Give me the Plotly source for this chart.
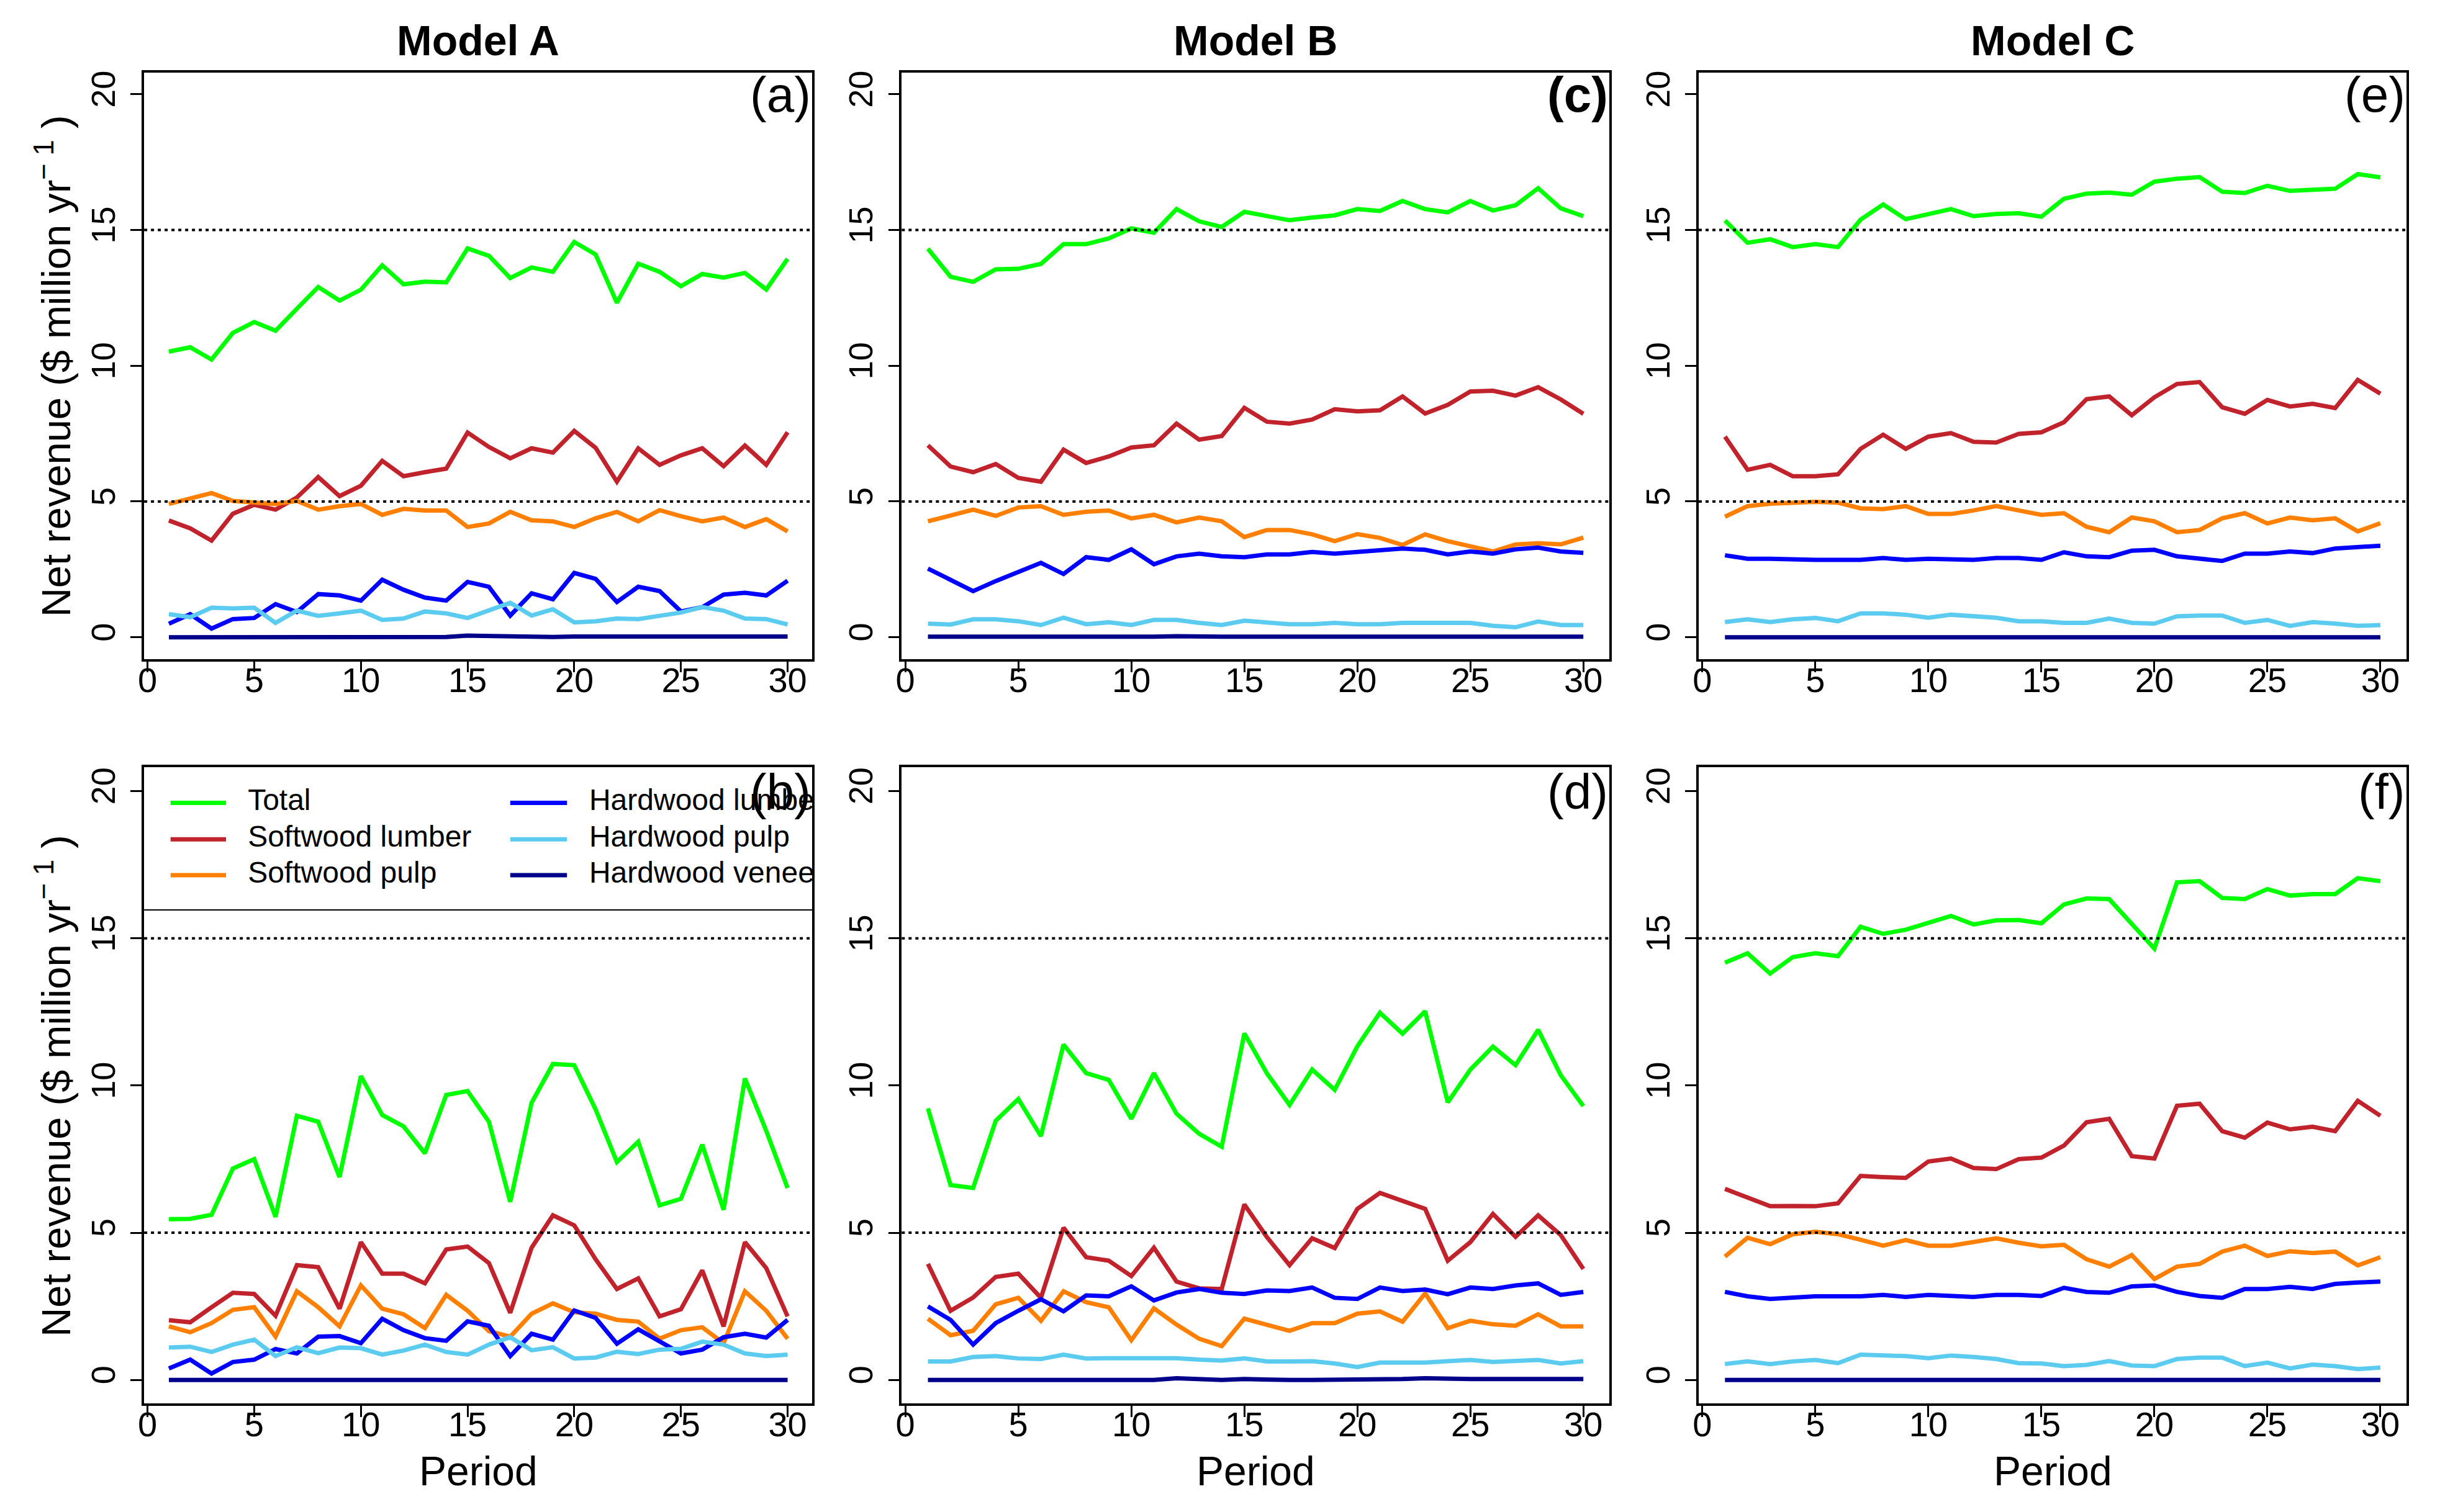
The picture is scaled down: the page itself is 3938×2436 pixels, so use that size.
import plotly.graph_objects as go

PERIODS = [1, 2, 3, 4, 5, 6, 7, 8, 9, 10, 11, 12, 13, 14, 15,
           16, 17, 18, 19, 20, 21, 22, 23, 24, 25, 26, 27, 28, 29, 30]
SERIES = ["Total", "Softwood lumber", "Softwood pulp",
          "Hardwood lumber", "Hardwood pulp", "Hardwood veneer"]
MODELS = ["Model A", "Model B", "Model C"]
X_TICKS = [0, 5, 10, 15, 20, 25, 30]
Y_TICKS = [0, 5, 10, 15, 20]
REF_LINES = [5, 15]

# ---- panel (a) ----
a_total = [10.52, 10.68, 10.23, 11.21, 11.61, 11.29, 12.1, 12.9, 12.4, 12.8, 13.7, 13.0, 13.1, 13.07, 14.32,
           14.05, 13.23, 13.62, 13.46, 14.56, 14.1, 12.32, 13.76, 13.46, 12.93, 13.38, 13.25, 13.42, 12.81, 13.94]
a_sw_lumber = [4.30, 4.01, 3.56, 4.55, 4.88, 4.70, 5.15, 5.90, 5.20, 5.58, 6.50, 5.93, 6.08, 6.21, 7.54,
               7.01, 6.59, 6.96, 6.80, 7.60, 6.98, 5.73, 6.96, 6.35, 6.70, 6.96, 6.30, 7.06, 6.35, 7.55]
a_sw_pulp = [4.91, 5.12, 5.31, 5.02, 4.96, 4.91, 5.02, 4.70, 4.83, 4.91, 4.51, 4.73, 4.67, 4.67, 4.06,
             4.19, 4.62, 4.31, 4.27, 4.06, 4.38, 4.62, 4.27, 4.68, 4.46, 4.27, 4.41, 4.06, 4.35, 3.90]
a_hw_lumber = [0.50, 0.85, 0.32, 0.67, 0.71, 1.22, 0.93, 1.59, 1.54, 1.35, 2.12, 1.75, 1.46, 1.35, 2.04,
               1.86, 0.80, 1.62, 1.40, 2.37, 2.15, 1.30, 1.86, 1.70, 0.95, 1.11, 1.57, 1.64, 1.54, 2.08]
a_hw_pulp = [0.85, 0.74, 1.09, 1.06, 1.09, 0.53, 0.98, 0.79, 0.88, 0.98, 0.64, 0.69, 0.95, 0.88, 0.71,
             0.99, 1.27, 0.80, 1.03, 0.55, 0.59, 0.69, 0.67, 0.79, 0.91, 1.11, 0.98, 0.69, 0.67, 0.47]
a_hw_veneer = [0.0, 0.0, 0.0, 0.0, 0.0, 0.0, 0.0, 0.0, 0.0, 0.02, 0.03, 0.02, 0.01, 0.01, 0.06,
               0.04, 0.01, 0.01, 0.01, 0.03, 0.03, 0.03, 0.03, 0.01, 0.01, 0.03, 0.01, 0.01, 0.01, 0.03]

# ---- panel (b) ----
b_total = [5.46, 5.47, 5.61, 7.18, 7.50, 5.54, 8.97, 8.77, 6.89, 10.32, 9.00, 8.61, 7.70, 9.68, 9.81,
           8.77, 6.05, 9.41, 10.73, 10.69, 9.19, 7.40, 8.09, 5.93, 6.15, 7.99, 5.78, 10.24, 8.46, 6.52]
b_sw_lumber = [2.03, 1.96, 2.47, 2.96, 2.92, 2.18, 3.90, 3.83, 2.42, 4.68, 3.61, 3.61, 3.28, 4.43, 4.53,
               3.97, 2.28, 4.49, 5.59, 5.25, 4.10, 3.09, 3.45, 2.16, 2.40, 3.72, 1.82, 4.68, 3.80, 2.16]
b_sw_pulp = [1.82, 1.62, 1.93, 2.38, 2.47, 1.47, 3.01, 2.47, 1.82, 3.21, 2.42, 2.23, 1.76, 2.89, 2.35,
             1.66, 1.47, 2.25, 2.60, 2.30, 2.25, 2.04, 1.98, 1.40, 1.69, 1.79, 1.25, 3.01, 2.35, 1.40]
b_hw_lumber = [0.39, 0.69, 0.22, 0.61, 0.69, 1.05, 0.90, 1.47, 1.49, 1.25, 2.08, 1.69, 1.42, 1.33, 1.99,
               1.84, 0.81, 1.57, 1.37, 2.36, 2.11, 1.23, 1.72, 1.33, 0.90, 1.03, 1.45, 1.57, 1.44, 2.04]
b_hw_pulp = [1.10, 1.13, 0.95, 1.20, 1.37, 0.81, 1.11, 0.91, 1.10, 1.08, 0.86, 1.00, 1.20, 0.95, 0.86,
             1.20, 1.45, 1.01, 1.11, 0.73, 0.76, 0.96, 0.88, 1.03, 1.06, 1.30, 1.20, 0.90, 0.81, 0.86]
b_hw_veneer = [0.0, 0.0, 0.0, 0.0, 0.0, 0.0, 0.0, 0.0, 0.0, 0.0, 0.0, 0.0, 0.0, 0.0, 0.03,
               0.01, 0.0, 0.0, 0.0, 0.0, 0.0, 0.01, 0.03, 0.0, 0.0, 0.0, 0.0, 0.0, 0.0, 0.0]

# ---- panel (c) ----
c_total = [14.31, 13.28, 13.09, 13.55, 13.57, 13.75, 14.48, 14.48, 14.69, 15.06, 14.90, 15.77, 15.32, 15.11, 15.67,
           15.51, 15.36, 15.46, 15.54, 15.77, 15.70, 16.07, 15.77, 15.65, 16.07, 15.72, 15.91, 16.54, 15.80, 15.51]
c_sw_lumber = [7.07, 6.29, 6.08, 6.38, 5.87, 5.73, 6.91, 6.42, 6.66, 6.99, 7.07, 7.87, 7.28, 7.41, 8.45,
               7.94, 7.87, 8.02, 8.40, 8.32, 8.36, 8.87, 8.24, 8.56, 9.05, 9.08, 8.90, 9.21, 8.76, 8.23]
c_sw_pulp = [4.27, 4.49, 4.70, 4.47, 4.78, 4.83, 4.51, 4.62, 4.67, 4.38, 4.51, 4.23, 4.41, 4.27, 3.69,
             3.95, 3.95, 3.79, 3.54, 3.80, 3.66, 3.40, 3.79, 3.54, 3.35, 3.16, 3.42, 3.46, 3.42, 3.67]
c_hw_lumber = [2.53, 2.12, 1.70, 2.07, 2.39, 2.74, 2.33, 2.95, 2.85, 3.24, 2.69, 2.98, 3.08, 2.98, 2.95,
               3.05, 3.05, 3.14, 3.08, 3.14, 3.18, 3.27, 3.22, 3.05, 3.16, 3.08, 3.24, 3.30, 3.16, 3.11]
c_hw_pulp = [0.50, 0.47, 0.66, 0.66, 0.59, 0.45, 0.72, 0.48, 0.55, 0.45, 0.64, 0.64, 0.53, 0.45, 0.61,
             0.56, 0.48, 0.48, 0.53, 0.48, 0.48, 0.53, 0.53, 0.50, 0.53, 0.42, 0.37, 0.58, 0.45, 0.45]
c_hw_veneer = [0.02, 0.02, -0.01, 0.01, 0.02, 0.02, 0.02, 0.02, 0.02, 0.02, 0.02, 0.04, 0.02, 0.02, 0.02,
               0.02, 0.02, 0.02, 0.02, 0.02, 0.02, 0.04, 0.05, 0.03, 0.02, 0.02, 0.02, 0.04, 0.04, 0.02]

# ---- panel (d) ----
d_total = [9.22, 6.62, 6.52, 8.80, 9.54, 8.28, 11.39, 10.42, 10.19, 8.87, 10.42, 9.04, 8.36, 7.92, 11.77,
           10.41, 9.34, 10.54, 9.85, 11.33, 12.47, 11.76, 12.52, 9.43, 10.54, 11.32, 10.69, 11.89, 10.35, 9.30]
d_sw_lumber = [3.94, 2.35, 2.80, 3.50, 3.61, 2.79, 5.17, 4.17, 4.05, 3.53, 4.49, 3.34, 3.11, 3.09, 5.96,
               4.85, 3.90, 4.81, 4.48, 5.81, 6.35, 6.08, 5.81, 4.05, 4.68, 5.64, 4.86, 5.59, 4.92, 3.77]
d_sw_pulp = [2.08, 1.52, 1.67, 2.57, 2.79, 2.01, 3.01, 2.64, 2.47, 1.35, 2.43, 1.88, 1.40, 1.15, 2.08,
             1.89, 1.67, 1.93, 1.93, 2.25, 2.33, 1.98, 2.94, 1.76, 2.01, 1.89, 1.84, 2.23, 1.82, 1.82]
d_hw_lumber = [2.50, 2.04, 1.20, 1.93, 2.35, 2.74, 2.33, 2.87, 2.84, 3.18, 2.70, 2.97, 3.09, 2.96, 2.92,
               3.04, 3.02, 3.14, 2.79, 2.75, 3.14, 3.02, 3.07, 2.91, 3.14, 3.09, 3.21, 3.28, 2.89, 2.99]
d_hw_pulp = [0.63, 0.63, 0.78, 0.81, 0.73, 0.71, 0.86, 0.73, 0.74, 0.73, 0.74, 0.74, 0.69, 0.66, 0.73,
             0.63, 0.63, 0.64, 0.56, 0.44, 0.59, 0.59, 0.59, 0.64, 0.68, 0.61, 0.63, 0.68, 0.56, 0.64]
d_hw_veneer = [0.0, 0.0, 0.0, 0.0, 0.0, 0.0, 0.0, 0.0, 0.02, 0.0, 0.0, 0.06, 0.03, 0.0, 0.03,
               0.0, 0.0, 0.0, 0.0, 0.0, 0.0, 0.03, 0.06, 0.03, 0.03, 0.03, 0.03, 0.05, 0.03, 0.03]

# ---- panel (e) ----
e_total = [15.35, 14.53, 14.66, 14.37, 14.48, 14.37, 15.38, 15.94, 15.40, 15.57, 15.77, 15.51, 15.59, 15.62, 15.49,
           16.15, 16.34, 16.38, 16.30, 16.78, 16.89, 16.95, 16.41, 16.36, 16.63, 16.44, 16.49, 16.52, 17.06, 16.94]
e_sw_lumber = [7.39, 6.17, 6.35, 5.93, 5.93, 6.00, 6.94, 7.46, 6.94, 7.39, 7.52, 7.20, 7.17, 7.49, 7.55,
               7.92, 8.77, 8.87, 8.18, 8.84, 9.33, 9.40, 8.47, 8.23, 8.74, 8.50, 8.60, 8.44, 9.48, 8.97]
e_sw_pulp = [4.44, 4.83, 4.92, 4.96, 4.99, 4.96, 4.75, 4.72, 4.83, 4.54, 4.54, 4.67, 4.83, 4.67, 4.51,
             4.57, 4.07, 3.87, 4.41, 4.27, 3.87, 3.95, 4.38, 4.57, 4.19, 4.41, 4.31, 4.38, 3.90, 4.20]
e_hw_lumber = [3.02, 2.89, 2.89, 2.85, 2.85, 2.85, 2.85, 2.92, 2.85, 2.89, 2.89, 2.85, 2.92, 2.92, 2.85,
               3.13, 2.98, 2.95, 3.19, 3.22, 2.98, 2.89, 2.81, 3.08, 3.08, 3.16, 3.10, 3.27, 3.34, 3.37]
e_hw_pulp = [0.56, 0.66, 0.56, 0.66, 0.71, 0.59, 0.88, 0.88, 0.83, 0.72, 0.83, 0.77, 0.72, 0.59, 0.59,
             0.53, 0.53, 0.69, 0.53, 0.50, 0.77, 0.80, 0.80, 0.53, 0.64, 0.42, 0.56, 0.50, 0.42, 0.45]
e_hw_veneer = [0.0, 0.0, 0.0, 0.0, 0.0, 0.0, 0.0, 0.0, 0.0, 0.0, 0.0, 0.0, 0.0, 0.0, 0.0,
               0.0, 0.0, 0.0, 0.0, 0.0, 0.0, 0.0, 0.0, 0.0, 0.0, 0.0, 0.0, 0.0, 0.0, 0.0]

# ---- panel (f) ----
f_total = [14.17, 14.49, 13.80, 14.36, 14.49, 14.39, 15.39, 15.15, 15.29, 15.54, 15.76, 15.47, 15.61, 15.62, 15.51,
           16.15, 16.35, 16.33, 15.51, 14.65, 16.90, 16.94, 16.37, 16.33, 16.67, 16.45, 16.50, 16.50, 17.04, 16.94]
f_sw_lumber = [6.49, 6.18, 5.90, 5.91, 5.90, 6.00, 6.93, 6.89, 6.86, 7.42, 7.52, 7.20, 7.16, 7.50, 7.55,
               7.96, 8.75, 8.87, 7.60, 7.52, 9.31, 9.38, 8.45, 8.23, 8.74, 8.51, 8.60, 8.45, 9.48, 8.97]
f_sw_pulp = [4.19, 4.83, 4.61, 4.95, 5.03, 4.95, 4.76, 4.56, 4.75, 4.56, 4.56, 4.68, 4.81, 4.66, 4.54,
             4.59, 4.10, 3.85, 4.24, 3.43, 3.85, 3.94, 4.36, 4.56, 4.21, 4.37, 4.31, 4.36, 3.89, 4.17]
f_hw_lumber = [2.99, 2.84, 2.75, 2.80, 2.84, 2.84, 2.84, 2.89, 2.82, 2.89, 2.85, 2.82, 2.89, 2.89, 2.85,
               3.13, 2.99, 2.96, 3.18, 3.21, 2.99, 2.85, 2.79, 3.09, 3.09, 3.16, 3.09, 3.26, 3.31, 3.34]
f_hw_pulp = [0.54, 0.63, 0.54, 0.63, 0.68, 0.57, 0.86, 0.84, 0.81, 0.74, 0.83, 0.78, 0.71, 0.57, 0.56,
             0.47, 0.51, 0.64, 0.49, 0.47, 0.71, 0.76, 0.76, 0.47, 0.59, 0.39, 0.52, 0.47, 0.37, 0.42]
f_hw_veneer = [0.0, 0.0, 0.0, 0.0, 0.0, 0.0, 0.0, 0.0, 0.0, 0.0, 0.0, 0.0, 0.0, 0.0, 0.0,
               0.0, 0.0, 0.0, 0.0, 0.0, 0.0, 0.0, 0.0, 0.0, 0.0, 0.0, 0.0, 0.0, 0.0, 0.0]

PANELS = {
    "a": [a_total, a_sw_lumber, a_sw_pulp, a_hw_lumber, a_hw_pulp, a_hw_veneer],
    "b": [b_total, b_sw_lumber, b_sw_pulp, b_hw_lumber, b_hw_pulp, b_hw_veneer],
    "c": [c_total, c_sw_lumber, c_sw_pulp, c_hw_lumber, c_hw_pulp, c_hw_veneer],
    "d": [d_total, d_sw_lumber, d_sw_pulp, d_hw_lumber, d_hw_pulp, d_hw_veneer],
    "e": [e_total, e_sw_lumber, e_sw_pulp, e_hw_lumber, e_hw_pulp, e_hw_veneer],
    "f": [f_total, f_sw_lumber, f_sw_pulp, f_hw_lumber, f_hw_pulp, f_hw_veneer],
}

# ---------------- styling / layout ----------------
COLORS = ["#00FF00", "#C0232B", "#FF7F00", "#0000FF", "#5BCBEF", "#00008B"]
FONT = "Liberation Sans, Arial, Helvetica, sans-serif"
W, H = 3938, 2436
LINE_W = 7

# panel boxes in pixels (left, right) and (top, bottom)
COLS_PX = [(222.7, 1301.7), (1446, 2589), (2733, 3876)]
ROWS_PX = [(114, 1060), (1235, 2261)]
XR = [-0.16, 31.16]
YR = [-0.8, 20.8]

# panel letter -> (row, col, axis index)
LAYOUT = {"a": (0, 0, 1), "c": (0, 1, 2), "e": (0, 2, 3),
          "b": (1, 0, 4), "d": (1, 1, 5), "f": (1, 2, 6)}

fig = go.Figure()
layout = dict(
    width=W, height=H, autosize=False,
    margin=dict(l=0, r=0, t=0, b=0),
    paper_bgcolor="white", plot_bgcolor="white",
    showlegend=False,
    font=dict(family=FONT, color="black"),
)

shapes = []
annotations = []

for letter, (row, col, idx) in LAYOUT.items():
    xs = "" if idx == 1 else str(idx)
    xa, ya = "x" + xs, "y" + xs
    x0, x1 = COLS_PX[col]
    ytop, ybot = ROWS_PX[row]
    layout["xaxis" + xs] = dict(
        domain=[x0 / W, x1 / W], range=XR, anchor=ya,
        tickmode="array", tickvals=X_TICKS, ticktext=[str(v) for v in X_TICKS],
        ticks="outside", ticklen=18, tickwidth=3, tickcolor="black",
        showline=True, linewidth=3.5, linecolor="black", mirror=True,
        showgrid=False, zeroline=False,
        ticklabelstandoff=-36,
        tickfont=dict(family=FONT, size=56, color="black"),
    )
    layout["yaxis" + xs] = dict(
        domain=[1 - ybot / H, 1 - ytop / H], range=YR, anchor=xa,
        tickmode="array", tickvals=Y_TICKS, ticktext=[str(v) for v in Y_TICKS],
        ticks="outside", ticklen=18, tickwidth=3, tickcolor="black",
        showline=True, linewidth=3.5, linecolor="black", mirror=True,
        showgrid=False, zeroline=False, tickangle=-90,
        ticklabelstandoff=4,
        tickfont=dict(family=FONT, size=54, color="black"),
    )
    # reference dotted lines
    for yv in REF_LINES:
        shapes.append(dict(type="line", xref=xa + " domain", yref=ya,
                           x0=0, x1=1, y0=yv, y1=yv,
                           line=dict(color="black", width=4, dash="5px,6px")))
    # data lines
    for name, vals, colr in zip(SERIES, PANELS[letter], COLORS):
        fig.add_trace(go.Scatter(x=PERIODS, y=vals, mode="lines", name=name,
                                 line=dict(color=colr, width=LINE_W),
                                 xaxis=xa, yaxis=ya, showlegend=False,
                                 hoverinfo="skip"))
    # panel letter
    lab = "(" + letter + ")"
    if letter == "c":
        lab = "<b>" + lab + "</b>"
    annotations.append(dict(text=lab, xref=xa + " domain", yref=ya + " domain",
                            x=1.0, y=0.962, xanchor="right", yanchor="middle",
                            showarrow=False, font=dict(family=FONT, size=80, color="black")))

# Model titles
for col, title in enumerate(MODELS):
    x0, x1 = COLS_PX[col]
    annotations.append(dict(text="<b>" + title + "</b>", xref="paper", yref="paper",
                            x=(x0 + x1) / 2 / W, y=1 - 62 / H, xanchor="center", yanchor="middle",
                            showarrow=False, font=dict(family=FONT, size=68, color="black")))
# y axis labels
for row in range(2):
    ytop, ybot = ROWS_PX[row]
    annotations.append(dict(text="Net revenue ($ million yr<sup>\u2212 1</sup> )", xref="paper", yref="paper",
                            x=76 / W, y=1 - (ytop + ybot) / 2 / H, xanchor="center", yanchor="middle",
                            textangle=-90, showarrow=False,
                            font=dict(family=FONT, size=65, color="black")))
# Period labels
for col in range(3):
    x0, x1 = COLS_PX[col]
    annotations.append(dict(text="Period", xref="paper", yref="paper",
                            x=(x0 + x1) / 2 / W, y=1 - 2370 / H, xanchor="center", yanchor="middle",
                            showarrow=False, font=dict(family=FONT, size=66, color="black")))

# ---- legend inside panel (b): clipped at the panel border like the original ----
LEG_ROW_Y = [19.6, 18.36, 17.14]
LEG_COL_LINE_X = [(1.08, 3.68), (17.0, 19.66)]
LEG_COL_TEXT_X = [4.7, 20.7]
LEG_BOTTOM_Y = 15.96
for i, (name, colr) in enumerate(zip(SERIES, COLORS)):
    c, r = divmod(i, 3)
    lx0, lx1 = LEG_COL_LINE_X[c]
    fig.add_trace(go.Scatter(x=[lx0, lx1], y=[LEG_ROW_Y[r], LEG_ROW_Y[r]], mode="lines",
                             line=dict(color=colr, width=LINE_W), xaxis="x4", yaxis="y4",
                             showlegend=False, hoverinfo="skip"))
    fig.add_trace(go.Scatter(x=[LEG_COL_TEXT_X[c]], y=[LEG_ROW_Y[r]], mode="text",
                             text=[name], textposition="middle right", cliponaxis=True,
                             textfont=dict(family=FONT, size=48, color="black"),
                             xaxis="x4", yaxis="y4", showlegend=False, hoverinfo="skip"))
shapes.append(dict(type="line", xref="x4 domain", yref="y4", x0=0, x1=1,
                   y0=LEG_BOTTOM_Y, y1=LEG_BOTTOM_Y, line=dict(color="black", width=2)))

layout["shapes"] = shapes
layout["annotations"] = annotations
fig.update_layout(**layout)

fig.write_html("out.html", config={"displayModeBar": False},
               post_script="document.body.style.margin='0';document.body.style.overflow='hidden';")
